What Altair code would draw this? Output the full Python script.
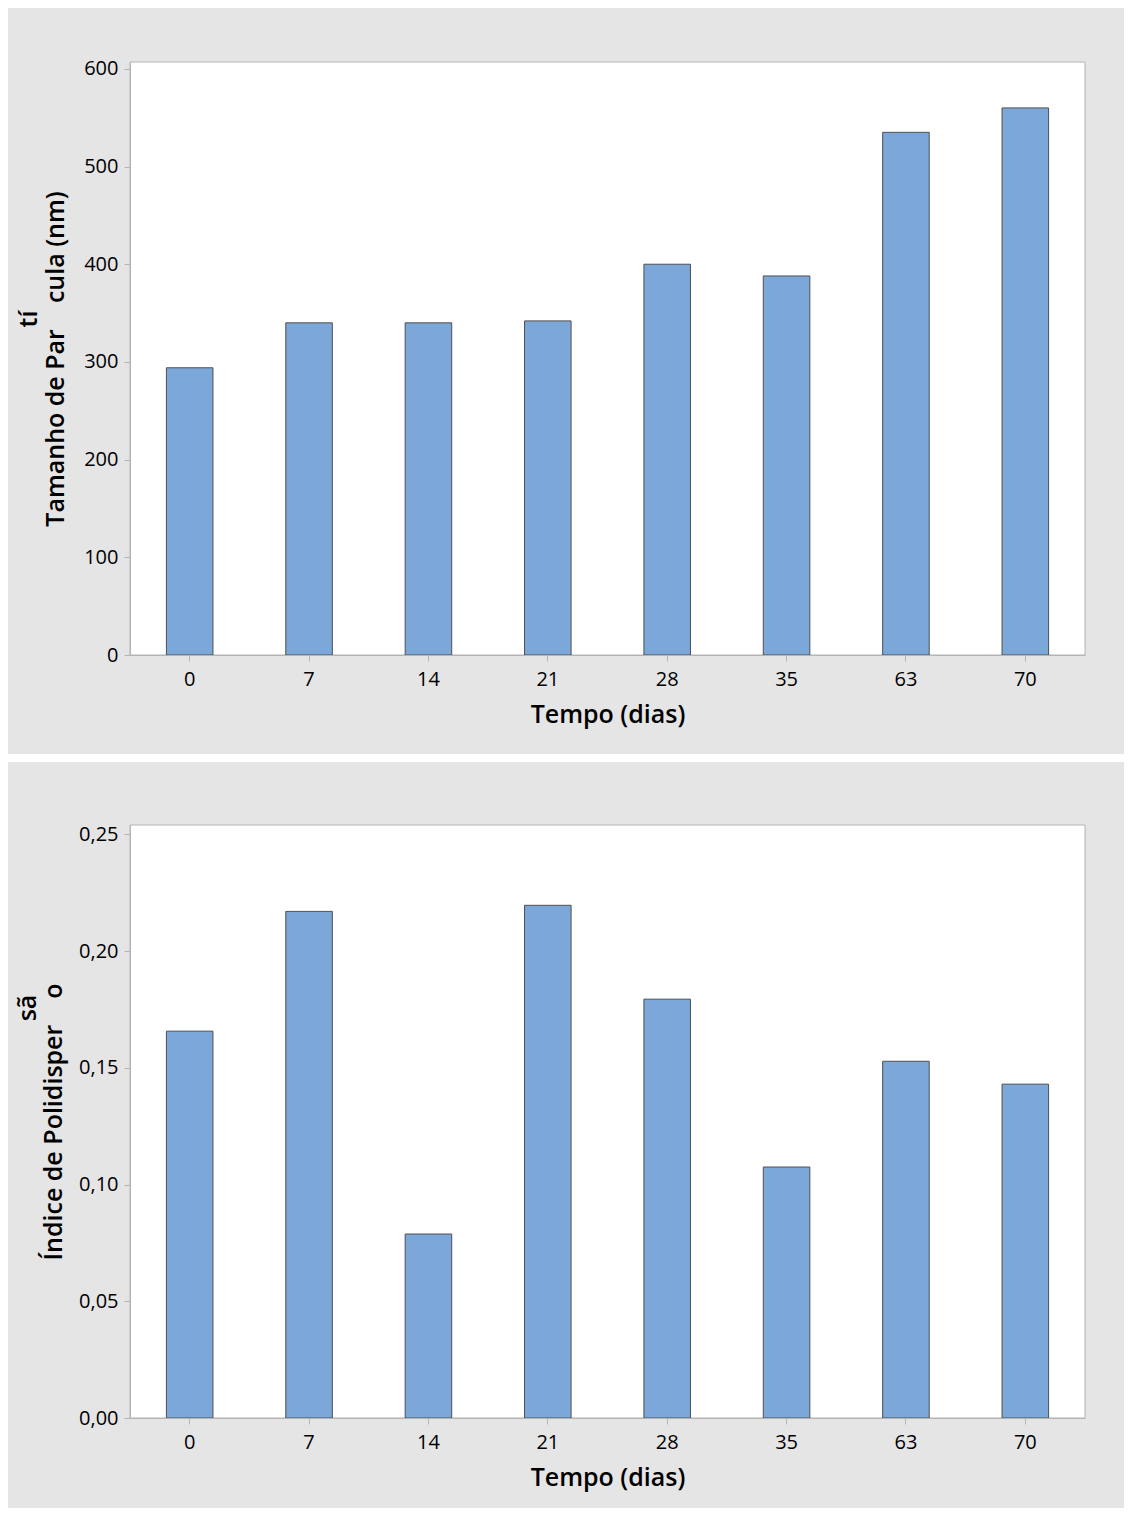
import altair as alt
import pandas as pd

days = ["0", "7", "14", "21", "28", "35", "63", "70"]
size_nm = [294, 340, 340, 342, 400, 388, 535, 560]
pdi = [0.1657, 0.2170, 0.0788, 0.2196, 0.1794, 0.1075, 0.1528, 0.1430]

size_ticks = [0, 100, 200, 300, 400, 500, 600]
pdi_ticks = [0.0, 0.05, 0.10, 0.15, 0.20, 0.25]

x_title = "Tempo (dias)"
NB = "\u00a0"
y_title_top = "Tamanho de Par" + NB * 4 + "cula (nm)"
frag_top = "tí"
y_title_bot = "Índice de Polidisper" + NB * 4 + "o"
frag_bot = "sã"

GREY = "#e5e5e5"
BAR = "#7ba7d9"
EDGE = "#b4b4b4"
FONT = "Open Sans"
TFS = 25
LFS = 20
one = pd.DataFrame({"a": [0]})

W, H = 955, 593
LEFT, RIGHT = 122, 39


def panel(values, ytitle, frag, ydomain, yticks, label_expr, top, bottom,
          title_x, frag_x, frag_y):
    df = pd.DataFrame({"dia": days, "v": values})
    bg = alt.Chart(one).mark_rect(color=GREY, strokeWidth=0).encode(
        x=alt.value(-LEFT), x2=alt.value(W + RIGHT),
        y=alt.value(-top), y2=alt.value(H + bottom))
    area = alt.Chart(one).mark_rect(fill="white", stroke=EDGE, strokeWidth=1).encode(
        x=alt.value(0), x2=alt.value(W), y=alt.value(0), y2=alt.value(H))
    yaxis_kw = dict(
        values=yticks, title=ytitle, grid=False, zindex=1,
        labelFont=FONT, labelFontSize=LFS, labelColor="black", labelPadding=6,
        tickColor=EDGE, tickSize=6, domainColor=EDGE,
        titleFont=FONT, titleFontSize=TFS, titleFontWeight=600, titleColor="black",
        titleAngle=270, titleX=title_x, titleY=H / 2, titleBaseline="middle",
        titleAlign="center")
    if label_expr:
        yaxis_kw["labelExpr"] = label_expr
    bars = alt.Chart(df).mark_bar(color=BAR, stroke="#505050", strokeWidth=1).encode(
        x=alt.X("dia:N", sort=days,
                scale=alt.Scale(paddingInner=0.61, paddingOuter=0.305),
                axis=alt.Axis(
                    title=x_title, labelAngle=0, grid=False, zindex=1,
                    labelFont=FONT, labelFontSize=LFS, labelColor="black",
                    labelBaseline="alphabetic", labelPadding=24,
                    tickColor=EDGE, tickSize=6, domainColor=EDGE,
                    titleFont=FONT, titleFontSize=TFS, titleFontWeight=600,
                    titleColor="black", titleBaseline="alphabetic", titleY=67)),
        y=alt.Y("v:Q", scale=alt.Scale(domain=ydomain, nice=False, zero=True),
                axis=alt.Axis(**yaxis_kw)),
    )
    ftxt = alt.Chart(one).mark_text(
        text=frag, angle=270, font=FONT, fontSize=TFS, fontWeight=600,
        color="black", baseline="middle", align="center").encode(
        x=alt.value(frag_x), y=alt.value(frag_y))
    return alt.layer(bg, area, bars, ftxt).properties(width=W, height=H)


top_chart = panel(size_nm, y_title_top, frag_top, [0, 607], size_ticks, None,
                  54, 99, -75, -101, 257)
bot_chart = panel(pdi, y_title_bot, frag_bot, [0, 0.254], pdi_ticks,
                  "replace(format(datum.value, '.2f'), '.', ',')",
                  63, 90, -77, -102, 183)

chart = alt.vconcat(top_chart, bot_chart, spacing=8).properties(
    background="white", padding=0
).configure_view(stroke=None)

chart.save("out.html", embed_options={"renderer": "svg", "actions": False})
